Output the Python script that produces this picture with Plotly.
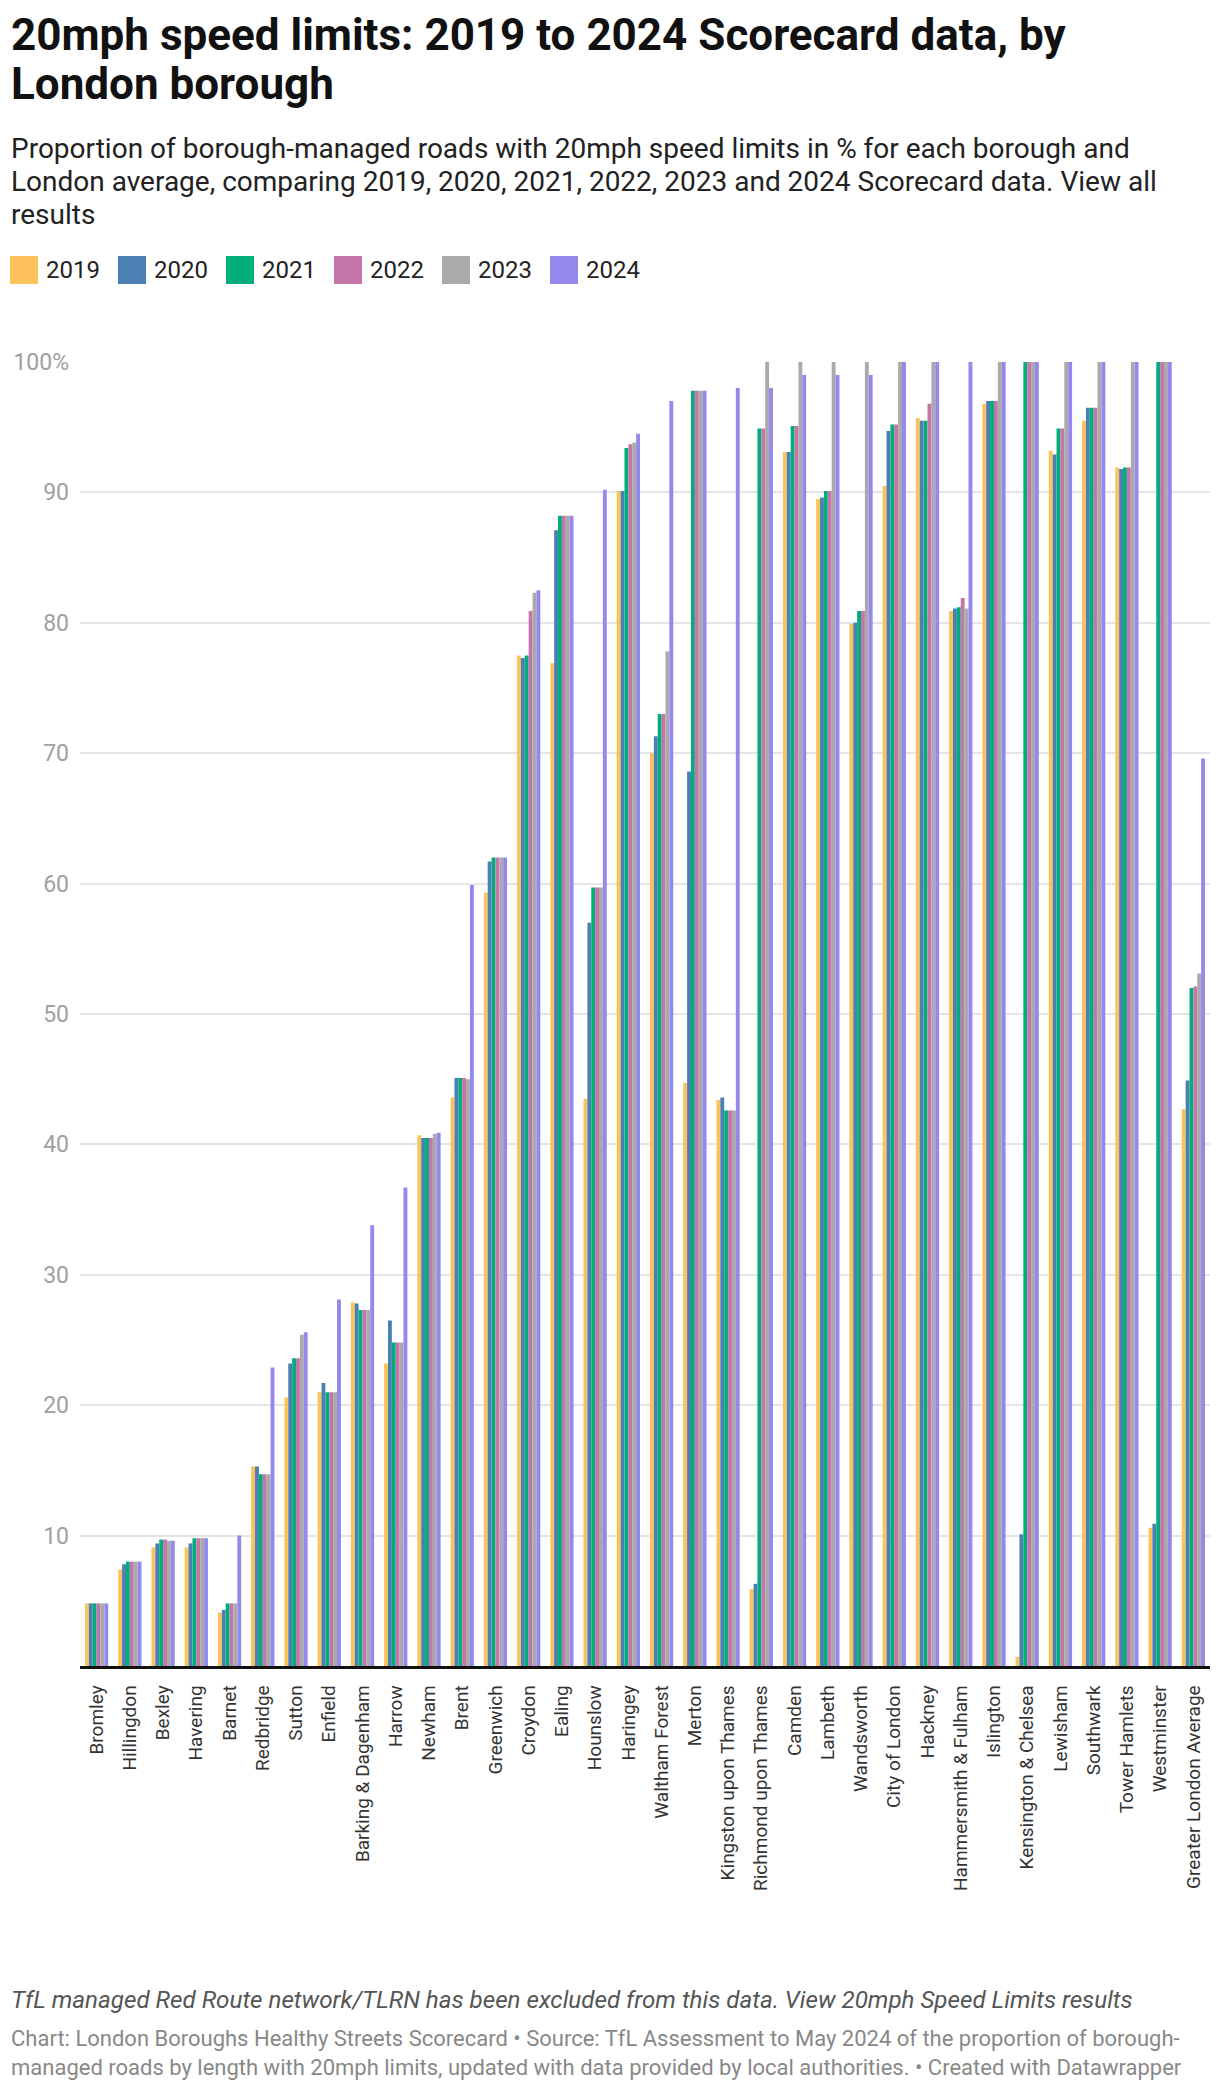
import plotly.graph_objects as go

boroughs = ["Bromley", "Hillingdon", "Bexley", "Havering", "Barnet", "Redbridge", "Sutton", "Enfield",
            "Barking & Dagenham", "Harrow", "Newham", "Brent", "Greenwich", "Croydon", "Ealing", "Hounslow",
            "Haringey", "Waltham Forest", "Merton", "Kingston upon Thames", "Richmond upon Thames", "Camden",
            "Lambeth", "Wandsworth", "City of London", "Hackney", "Hammersmith & Fulham", "Islington",
            "Kensington & Chelsea", "Lewisham", "Southwark", "Tower Hamlets", "Westminster",
            "Greater London Average"]

v2019 = [4.8, 7.4, 9.1, 9.1, 4.1, 15.3, 20.6, 21.0, 27.9, 23.2, 40.7, 43.6, 59.3, 77.5, 76.9, 43.5, 90.1,
         70.0, 44.7, 43.4, 5.9, 93.1, 89.5, 79.9, 90.5, 95.7, 80.9, 96.8, 0.7, 93.2, 95.5, 91.9, 10.6, 42.7]
v2020 = [4.8, 7.8, 9.4, 9.4, 4.3, 15.3, 23.2, 21.7, 27.8, 26.5, 40.5, 45.1, 61.7, 77.3, 87.1, 57.0, 90.1,
         71.3, 68.6, 43.6, 6.3, 93.1, 89.6, 80.0, 94.7, 95.5, 81.1, 97.0, 10.1, 92.9, 96.5, 91.8, 10.9, 44.9]
v2021 = [4.8, 8.0, 9.7, 9.8, 4.8, 14.7, 23.6, 21.0, 27.3, 24.8, 40.5, 45.1, 62.0, 77.5, 88.2, 59.7, 93.4,
         73.0, 97.8, 42.6, 94.9, 95.1, 90.1, 80.9, 95.2, 95.5, 81.2, 97.0, 100, 94.9, 96.5, 91.9, 100, 52.0]
v2022 = [4.8, 8.0, 9.7, 9.8, 4.8, 14.7, 23.6, 21.0, 27.3, 24.8, 40.5, 45.1, 62.0, 80.9, 88.2, 59.7, 93.7,
         73.0, 97.8, 42.6, 94.9, 95.1, 90.1, 80.9, 95.2, 96.8, 81.9, 97.0, 100, 94.9, 96.5, 91.9, 100, 52.1]
v2023 = [4.8, 8.0, 9.6, 9.8, 4.8, 14.7, 25.4, 21.0, 27.3, 24.8, 40.8, 45.0, 62.0, 82.3, 88.2, 59.7, 93.8,
         77.8, 97.8, 42.6, 100, 100, 100, 100, 100, 100, 81.1, 100, 100, 100, 100, 100, 100, 53.1]
v2024 = [4.8, 8.0, 9.6, 9.8, 10.0, 22.9, 25.6, 28.1, 33.8, 36.7, 40.9, 59.9, 62.0, 82.5, 88.2, 90.2, 94.5,
         97.0, 97.8, 98.0, 98.0, 99.0, 99.0, 99.0, 100, 100, 100, 100, 100, 100, 100, 100, 100, 69.6]

years = ["2019", "2020", "2021", "2022", "2023", "2024"]
series = [v2019, v2020, v2021, v2022, v2023, v2024]
colors = ["#fcc25b", "#4a80b2", "#02ad7c", "#c675a9", "#aaaaaa", "#9588ec"]

ytickvals = [10, 20, 30, 40, 50, 60, 70, 80, 90, 100]
yticktext = ["10", "20", "30", "40", "50", "60", "70", "80", "90", "100%"]

W, H = 1220, 2088
L, R, T, B = 80, 10, 362, 422
PW, PH = W - L - R, H - T - B


def px(x):
    return (x - L) / PW


def py(y):
    return (H - B - y) / PH


FONT = "Roboto"

fig = go.Figure()
for yr, vals, col in zip(years, series, colors):
    fig.add_trace(go.Bar(name=yr, x=boroughs, y=vals, marker=dict(color=col, line=dict(width=0)),
                         showlegend=False))

annotations = []
shapes = []


def text(x, baseline, s, size, color, weight="normal", style="normal"):
    top = baseline - 0.93 * size - 1
    annotations.append(dict(x=px(x), y=py(top), xref="paper", yref="paper", xanchor="left", yanchor="top",
                            text=s, showarrow=False, align="left",
                            font=dict(family=FONT, size=size, color=color, weight=weight, style=style)))


# title
text(9, 48.5, "20mph speed limits: 2019 to 2024 Scorecard data, by", 44, "#111111", weight="bold")
text(9, 97.5, "London borough", 44, "#111111", weight="bold")
# subtitle
sub_lines = ["Proportion of borough-managed roads with 20mph speed limits in % for each borough and",
             "London average, comparing 2019, 2020, 2021, 2022, 2023 and 2024 Scorecard data. View all",
             "results"]
for i, s in enumerate(sub_lines):
    text(9, 157 + 33 * i, s, 28, "#222222")
# legend
lx = [10, 118, 226, 334, 442, 550]
for x0, yr, col in zip(lx, years, colors):
    shapes.append(dict(type="rect", xref="paper", yref="paper", x0=px(x0), x1=px(x0 + 28),
                       y0=py(256), y1=py(284), fillcolor=col, line=dict(width=0)))
    text(x0 + 34, 277, yr, 24, "#222222")
# footer
text(9, 2008,
     "TfL managed Red Route network/TLRN has been excluded from this data. View 20mph Speed Limits results",
     24.2, "#555555", style="italic")
text(9, 2045,
     "Chart: London Boroughs Healthy Streets Scorecard • Source: TfL Assessment to May 2024 of the proportion of borough-<br>"
     "managed roads by length with 20mph limits, updated with data provided by local authorities. • Created with Datawrapper",
     22, "#888888")

fig.update_layout(
    width=W, height=H,
    margin=dict(l=L, r=R, t=T, b=B, pad=0),
    paper_bgcolor="white", plot_bgcolor="white",
    barmode="group", bargap=0.30, bargroupgap=0,
    font=dict(family=FONT),
    annotations=annotations, shapes=shapes,
    showlegend=False,
    xaxis=dict(type="category", tickangle=-90, tickfont=dict(family=FONT, size=19, color="#333333"),
               showline=True, linecolor="#111111", linewidth=2.5, ticks="", showgrid=False,
               ticklabelstandoff=9),
    yaxis=dict(range=[0, 100], tickvals=ytickvals, ticktext=yticktext, showgrid=True,
               gridcolor="#e5e5e5", gridwidth=2, zeroline=False, ticks="",
               tickfont=dict(family=FONT, size=23, color="#a0a0a0"), ticklabelstandoff=10),
)

fig.write_html("out.html", config={"displayModeBar": False},
               post_script="document.body.style.margin='0';")
